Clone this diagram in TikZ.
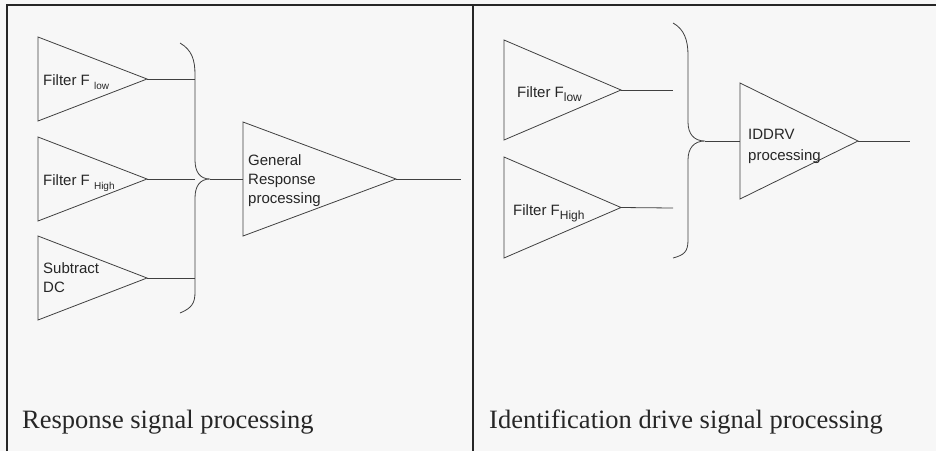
\documentclass[tikz,border=0pt]{standalone}
\usepackage{fontspec}
\setmainfont{Liberation Serif}
\newfontfamily\arialfont{Liberation Sans}
\usepackage{tikz}

\newcommand{\subtxt}[2]{{\fontsize{#1}{#1}\selectfont\raisebox{-4pt}{#2}}}
% amplifier: name, left x, top y, bottom y, tip x
\newcommand{\amp}[5]{%
  \draw[wire] (#2,#3) -- (#5,{(#3+#4)/2}) -- (#2,#4) -- cycle;
  \coordinate (#1) at (#5,{(#3+#4)/2});}

\tikzset{
  wire/.style={draw=black!75, line width=0.8pt},
  frame/.style={draw=black!85, line width=2pt},
  lbl/.style={font=\arialfont\fontsize{15}{19}\selectfont, text=black!85, inner sep=0pt, align=left},
  ttl/.style={font=\fontsize{26.5}{30}\selectfont, text=black!85, inner sep=0pt, anchor=base west}
}

\begin{document}
\begin{tikzpicture}[x=1pt,y=-1pt]
      \useasboundingbox (0,0) rectangle (936,451);
      \fill[black!3] (0,0) rectangle (936,451);
      %frame
      \draw[frame] (6.5,451) -- (6.5,4.5) -- (936,4.5);
      \draw[frame] (473,4.5) -- (473,451);
      %left
      \amp{tlo}{38}{37}{121}{147}
      \amp{thi}{38}{137}{221}{147}
      \amp{tdc}{38}{236}{320}{147}
      \amp{tgen}{243}{122}{236}{396}
      \coordinate (blo) at (195,79);
      \coordinate (bhi) at (195,179);
      \coordinate (bdc) at (195,278);
      \coordinate (btip) at (210,179);
      \coordinate (lout) at (461,179);
      \draw[wire] (180,43) .. controls (192,50) and (195,60) .. (195,75) -- (195,160)
        .. controls (195,172) and (200,179) .. (btip)
        .. controls (200,179) and (195,186) .. (195,198) -- (195,292)
        .. controls (195,303) and (192,308) .. (180,313);
      \draw[wire] (tlo) -- (blo);
      \draw[wire] (thi) -- (bhi);
      \draw[wire] (tdc) -- (bdc);
      \draw[wire] (btip) -- (243,179);
      \draw[wire] (tgen) -- (lout);
      \node[lbl, anchor=base west] (flo) at (43,85) {Filter F \subtxt{10}{low}};
      \node[lbl, anchor=base west] (fhi) at (43,185) {Filter F \subtxt{10}{High}};
      \node[lbl, anchor=west] (sdc) at (43,278) {Subtract\\DC};
      \node[lbl, anchor=west] (gen) at (248,180.5) {General\\Response\\processing};
      \node[ttl] (ttlleft) at (22,428) {Response signal processing};
      %right
      \amp{rlo}{504}{40}{140}{621}
      \amp{rhi}{504}{157}{258}{621}
      \amp{tid}{740}{83}{199}{858}
      \coordinate (rblo) at (673,90);
      \coordinate (rbhi) at (673,208);
      \coordinate (rbtip) at (705,141);
      \coordinate (rout) at (910,141);
      \draw[wire] (673,23) .. controls (684,29) and (688,40) .. (688,55) -- (688,122)
        .. controls (688,134) and (694,141) .. (rbtip)
        .. controls (694,141) and (688,148) .. (688,160) -- (688,240)
        .. controls (688,252) and (684,255) .. (673,258);
      \draw[wire] (rlo) -- (rblo);
      \draw[wire] (rhi) -- (rbhi);
      \draw[wire] (rbtip) -- (740,141);
      \draw[wire] (tid) -- (rout);
      \node[lbl, anchor=base west] (rflo) at (517,97) {Filter F\subtxt{12}{low}};
      \node[lbl, anchor=base west] (rfhi) at (513,215) {Filter F\subtxt{12}{High}};
      \node[lbl, anchor=west, font=\arialfont\fontsize{15}{20.5}\selectfont] (iddrv) at (748,146.5) {IDDRV\\processing};
      \node[ttl] (ttlright) at (489,428) {Identification drive signal processing};
\end{tikzpicture}
\end{document}
